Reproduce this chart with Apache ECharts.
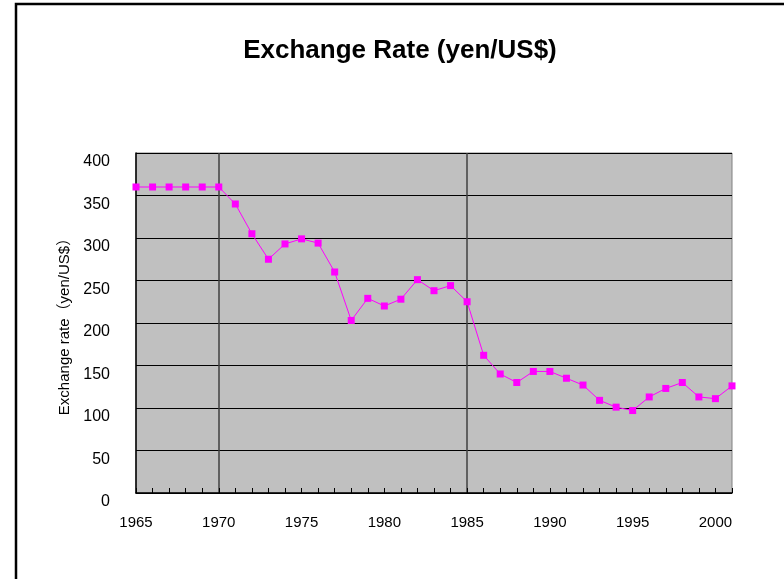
<!DOCTYPE html>
<html>
<head>
<meta charset="utf-8">
<script src="https://cdn.jsdelivr.net/npm/echarts@6/dist/echarts.min.js"></script>
<style>
html, body { margin: 0; padding: 0; background: #fff; }
#main { width: 784px; height: 579px; }
</style>
</head>
<body>
<div id="main"></div>
<script>
// 年份（1965-2001）
var years = [];
for (var y = 1965; y <= 2001; y++) { years.push(String(y)); }

// 汇率 yen/US$
var rates = [
    360, 360, 360, 360, 360, 360,      // 1965-1970
    340, 305, 275, 293, 299, 294,      // 1971-1976
    260, 203, 229, 220, 228, 251,      // 1977-1982
    238, 244, 225, 162, 140, 130,      // 1983-1988
    143, 143, 135, 127, 109, 101,      // 1989-1994
    97, 113, 123, 130, 113, 111,       // 1995-2000
    126                                // 2001
];

// 只有这两年画竖线
var markYears = ['1970', '1985'];

var myChart = echarts.init(document.getElementById('main'));

var option = {
    animation: false,
    backgroundColor: '#ffffff',
    graphic: [{
        type: 'rect',
        shape: { x: 16, y: 4, width: 800, height: 600 },
        style: { fill: 'none', stroke: '#000', lineWidth: 2.5 },
        z: 100
    }],
    title: {
        text: 'Exchange Rate (yen/US$)',
        left: 395,
        textAlign: 'center',
        top: 33,
        textStyle: {
            fontFamily: 'Liberation Sans, Arial, sans-serif',
            fontSize: 26,
            fontWeight: 'bold',
            color: '#000'
        }
    },
    grid: {
        left: 136,
        right: 52,
        top: 153,
        bottom: 86,
        show: true,
        backgroundColor: '#c0c0c0',
        borderColor: '#808080',
        borderWidth: 1
    },
    xAxis: {
        type: 'category',
        data: years,
        boundaryGap: false,
        axisLine: { lineStyle: { color: '#000', width: 1.5 } },
        axisTick: {
            show: true,
            inside: true,
            interval: 0,
            length: 5,
            lineStyle: { color: '#000' }
        },
        axisLabel: {
            interval: 4,
            margin: 22,
            fontSize: 15,
            color: '#000',
            fontFamily: 'Liberation Sans, Arial, sans-serif'
        },
        splitLine: {
            show: true,
            interval: function (index, value) {
                return markYears.indexOf(value) >= 0;
            },
            lineStyle: { color: '#404040', width: 1.5 }
        }
    },
    yAxis: {
        type: 'value',
        min: 0,
        max: 400,
        interval: 50,
        name: 'Exchange rate（yen/US$）',
        nameLocation: 'middle',
        nameGap: 60,
        nameTextStyle: {
            fontSize: 15,
            color: '#000',
            fontFamily: 'Liberation Sans, Noto Sans CJK JP, sans-serif'
        },
        axisLine: { show: true, lineStyle: { color: '#000', width: 1.5 } },
        axisTick: { show: false },
        axisLabel: {
            margin: 26,
            fontSize: 16,
            color: '#000',
            verticalAlign: 'top',
            padding: [1, 0, 0, 0],
            fontFamily: 'Liberation Sans, Arial, sans-serif'
        },
        splitLine: { show: true, lineStyle: { color: '#000', width: 1 } }
    },
    series: [{
        name: 'Exchange rate',
        type: 'line',
        data: rates,
        symbol: 'rect',
        symbolSize: 7,
        showAllSymbol: true,
        itemStyle: { color: '#ff00ff' },
        lineStyle: { color: '#ff00ff', width: 1 }
    }]
};

myChart.setOption(option);
</script>
</body>
</html>
